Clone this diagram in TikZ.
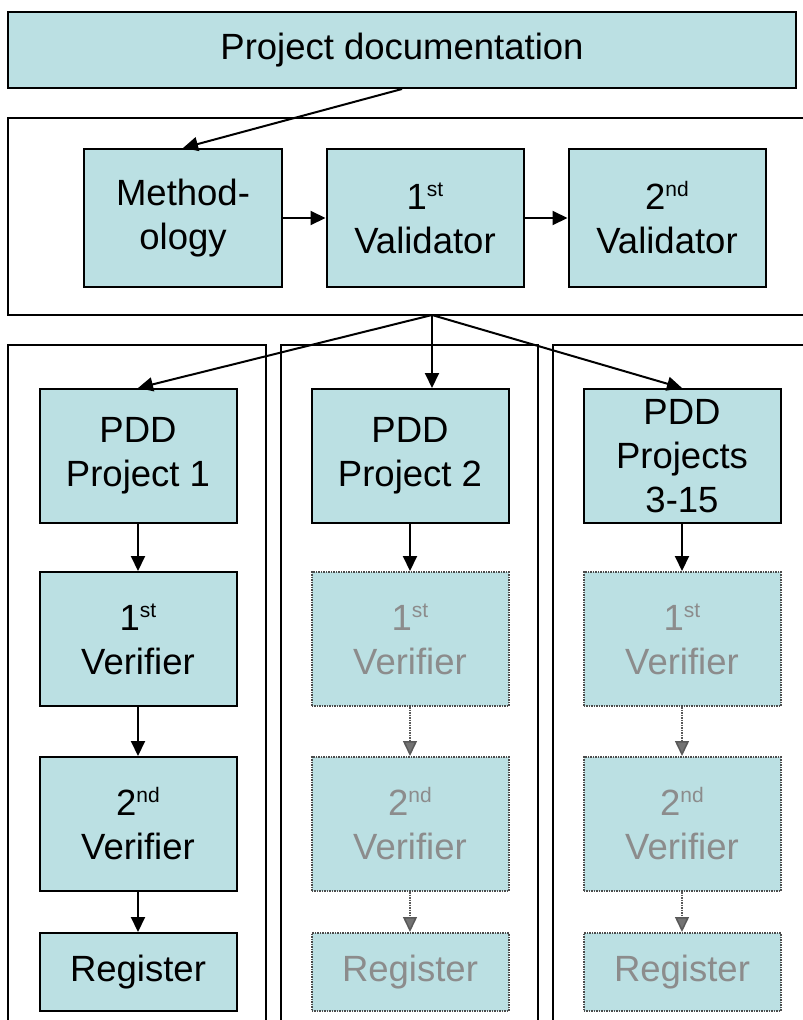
\documentclass[tikz,border=0pt]{standalone}
\usepackage{fontspec}
\setmainfont{Liberation Sans}
\usetikzlibrary{arrows.meta}
\definecolor{boxfill}{HTML}{BBE0E3}
\definecolor{fadetext}{HTML}{8C8C8C}
\newcommand{\supr}[1]{\raisebox{13pt}{\fontsize{21}{21}\selectfont #1}}
\tikzset{
	mainstyle/.style={rectangle, draw=black, fill=boxfill, line width=2pt, align=center,
		font=\fontsize{36.5}{44}\selectfont, inner sep=0pt},
	fadestyle/.style={mainstyle, draw=black!70, dash pattern=on 1.5pt off 1pt,
		text=fadetext},
	framestyle/.style={rectangle, draw=black, line width=2pt, fill=none, inner sep=0pt},
	fadearrow/.style={->, draw=black!65, dash pattern=on 1.5pt off 1pt, line width=1.5pt,
		>={Triangle[length=15pt,width=14pt,fill=black!55]}},
	>={Triangle[length=15pt,width=14pt]}
}

\begin{document}
\begin{tikzpicture}[x=1pt, y=-1pt, line width=2pt]

\useasboundingbox (0, 0) rectangle (803, 1020);

\def\wbox{197}
\def\hbx{134}

% frames
\node[framestyle, minimum width=822, minimum height=197] (stage) at (419, 216.5) {};
\node[framestyle, minimum width=258, minimum height=700] (col1) at (137, 695) {};
\node[framestyle, minimum width=257, minimum height=700] (col2) at (409.5, 695) {};
\node[framestyle, minimum width=258, minimum height=700] (col3) at (682, 695) {};

\node[mainstyle, minimum width=788, minimum height=76] (doc) at (402, 50) {Project documentation};

\node[mainstyle, minimum width=198, minimum height=138] (meth) at (183, 218) {Method-\\ology};
\node[mainstyle, minimum width=\wbox, minimum height=138] (val1) at (425, 218) {1\supr{st}\\Validator};
\node[mainstyle, minimum width=\wbox, minimum height=138] (val2) at (667, 218) {2\supr{nd}\\Validator};

\node[mainstyle, minimum width=\wbox, minimum height=\hbx] (pdd1) at (138, 456) {PDD\\Project 1};
\node[mainstyle, minimum width=\wbox, minimum height=\hbx] (pdd2) at (410, 456) {PDD\\Project 2};
\node[mainstyle, minimum width=\wbox, minimum height=\hbx] (pdd3) at (682, 456) {PDD\\Projects\\3-15};

\node[mainstyle, minimum width=\wbox, minimum height=\hbx] (ver11) at (138, 639) {1\supr{st}\\Verifier};
\node[mainstyle, minimum width=\wbox, minimum height=\hbx] (ver12) at (138, 824) {2\supr{nd}\\Verifier};
\node[mainstyle, minimum width=\wbox, minimum height=78]   (reg1)  at (138, 972) {Register};

\node[fadestyle, minimum width=\wbox, minimum height=\hbx] (ver21) at (410, 639) {1\supr{st}\\Verifier};
\node[fadestyle, minimum width=\wbox, minimum height=\hbx] (ver22) at (410, 824) {2\supr{nd}\\Verifier};
\node[fadestyle, minimum width=\wbox, minimum height=78]   (reg2)  at (410, 972) {Register};

\node[fadestyle, minimum width=\wbox, minimum height=\hbx] (ver31) at (682, 639) {1\supr{st}\\Verifier};
\node[fadestyle, minimum width=\wbox, minimum height=\hbx] (ver32) at (682, 824) {2\supr{nd}\\Verifier};
\node[fadestyle, minimum width=\wbox, minimum height=78]   (reg3)  at (682, 972) {Register};

\coordinate (split) at (432, 315);

\draw[->] (doc.south)--(meth.north);
\draw[->] (meth.east)--(val1.west);
\draw[->] (val1.east)--(val2.west);

\draw[->] (split)--(pdd1.north);
\draw[->] (split)--(split |- pdd2.north);
\draw[->] (split)--(pdd3.north);

\draw[->] (pdd1)--(ver11);
\draw[->] (ver11)--(ver12);
\draw[->] (ver12)--(reg1);

\draw[->] (pdd2)--(ver21);
\draw[fadearrow] (ver21)--(ver22);
\draw[fadearrow] (ver22)--(reg2);

\draw[->] (pdd3)--(ver31);
\draw[fadearrow] (ver31)--(ver32);
\draw[fadearrow] (ver32)--(reg3);
\end{tikzpicture}
\end{document}
